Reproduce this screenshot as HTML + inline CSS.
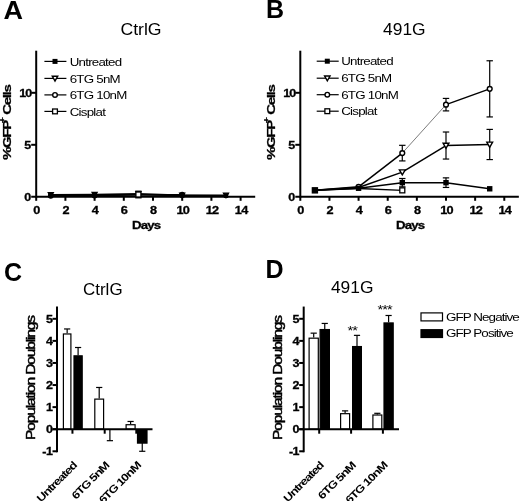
<!DOCTYPE html>
<html><head><meta charset="utf-8"><title>Figure</title>
<style>
html,body{margin:0;padding:0;background:#fff;}
svg{display:block;font-family:"Liberation Sans", Arial, sans-serif;fill:#000;}
svg g{filter:blur(0.35px);}
</style></head>
<body>
<svg width="520" height="501" viewBox="0 0 520 501">
<rect x="0" y="0" width="520" height="501" fill="#fff"/>
<g>
<text transform="translate(3.50,18.80) scale(1.08,1)" font-size="25" font-weight="bold" text-anchor="start" letter-spacing="0">A</text>
<text transform="translate(141.00,34.50) scale(1.015,1)" font-size="17.4" font-weight="normal" text-anchor="middle" letter-spacing="0">CtrlG</text>
<line x1="36.20" y1="50.70" x2="36.20" y2="197.80" stroke="#000" stroke-width="2" />
<line x1="31.20" y1="196.80" x2="255.20" y2="196.80" stroke="#000" stroke-width="2" />
<line x1="31.20" y1="144.80" x2="36.20" y2="144.80" stroke="#000" stroke-width="2" />
<line x1="31.20" y1="92.80" x2="36.20" y2="92.80" stroke="#000" stroke-width="2" />
<line x1="36.20" y1="196.80" x2="36.20" y2="200.80" stroke="#000" stroke-width="2" />
<text transform="translate(36.80,213.50) scale(1.2,1)" font-size="10.6" font-weight="bold" text-anchor="middle" letter-spacing="0" stroke="#000" stroke-width="0.3">0</text>
<line x1="65.40" y1="196.80" x2="65.40" y2="200.80" stroke="#000" stroke-width="2" />
<text transform="translate(66.00,213.50) scale(1.2,1)" font-size="10.6" font-weight="bold" text-anchor="middle" letter-spacing="0" stroke="#000" stroke-width="0.3">2</text>
<line x1="94.60" y1="196.80" x2="94.60" y2="200.80" stroke="#000" stroke-width="2" />
<text transform="translate(95.20,213.50) scale(1.2,1)" font-size="10.6" font-weight="bold" text-anchor="middle" letter-spacing="0" stroke="#000" stroke-width="0.3">4</text>
<line x1="123.80" y1="196.80" x2="123.80" y2="200.80" stroke="#000" stroke-width="2" />
<text transform="translate(124.40,213.50) scale(1.2,1)" font-size="10.6" font-weight="bold" text-anchor="middle" letter-spacing="0" stroke="#000" stroke-width="0.3">6</text>
<line x1="153.00" y1="196.80" x2="153.00" y2="200.80" stroke="#000" stroke-width="2" />
<text transform="translate(153.60,213.50) scale(1.2,1)" font-size="10.6" font-weight="bold" text-anchor="middle" letter-spacing="0" stroke="#000" stroke-width="0.3">8</text>
<line x1="182.20" y1="196.80" x2="182.20" y2="200.80" stroke="#000" stroke-width="2" />
<text transform="translate(182.80,213.50) scale(1.2,1)" font-size="10.6" font-weight="bold" text-anchor="middle" letter-spacing="-0.6" stroke="#000" stroke-width="0.3">10</text>
<line x1="211.40" y1="196.80" x2="211.40" y2="200.80" stroke="#000" stroke-width="2" />
<text transform="translate(212.00,213.50) scale(1.2,1)" font-size="10.6" font-weight="bold" text-anchor="middle" letter-spacing="-0.6" stroke="#000" stroke-width="0.3">12</text>
<line x1="240.60" y1="196.80" x2="240.60" y2="200.80" stroke="#000" stroke-width="2" />
<text transform="translate(241.20,213.50) scale(1.2,1)" font-size="10.6" font-weight="bold" text-anchor="middle" letter-spacing="-0.6" stroke="#000" stroke-width="0.3">14</text>
<text transform="translate(31.20,200.90) scale(1.18,1)" font-size="10.6" font-weight="bold" text-anchor="end" letter-spacing="0" stroke="#000" stroke-width="0.3">0</text>
<text transform="translate(31.20,148.90) scale(1.18,1)" font-size="10.6" font-weight="bold" text-anchor="end" letter-spacing="0" stroke="#000" stroke-width="0.3">5</text>
<text transform="translate(31.20,96.90) scale(1.18,1)" font-size="10.6" font-weight="bold" text-anchor="end" letter-spacing="-0.8" stroke="#000" stroke-width="0.3">10</text>
<text transform="translate(146.20,228.70) scale(1.18,1)" font-size="11.2" font-weight="bold" text-anchor="middle" letter-spacing="-0.7" stroke="#000" stroke-width="0.3">Days</text>
<text transform="translate(10.60,122.80) rotate(-90) scale(1.35,1)" font-size="11.2" font-weight="bold" text-anchor="middle" letter-spacing="-1.0" stroke="#000" stroke-width="0.25">%GFP<tspan dy="-5.8" dx="-1.6" font-size="8">+</tspan><tspan dy="5.8" dx="0.4"> Cells</tspan></text>
<line x1="44.40" y1="61.40" x2="66.40" y2="61.40" stroke="#000" stroke-width="1.2" />
<rect x="52.50" y="58.90" width="5.0" height="5.0" fill="#000"/>
<text transform="translate(69.70,65.60) scale(1.17,1)" font-size="11.4" font-weight="normal" text-anchor="start" letter-spacing="-0.65">Untreated</text>
<line x1="44.40" y1="78.40" x2="66.40" y2="78.40" stroke="#000" stroke-width="1.2" />
<polygon points="52.30,76.24 57.70,76.24 55.00,80.97" fill="#fff" stroke="#000" stroke-width="1.4"/>
<text transform="translate(69.70,82.60) scale(1.17,1)" font-size="11.4" font-weight="normal" text-anchor="start" letter-spacing="-0.65">6TG 5nM</text>
<line x1="44.40" y1="94.90" x2="66.40" y2="94.90" stroke="#000" stroke-width="1.2" />
<circle cx="55.00" cy="94.90" r="2.3" fill="#fff" stroke="#000" stroke-width="1.4"/>
<text transform="translate(69.70,99.10) scale(1.17,1)" font-size="11.4" font-weight="normal" text-anchor="start" letter-spacing="-0.65">6TG 10nM</text>
<line x1="44.40" y1="111.40" x2="66.40" y2="111.40" stroke="#000" stroke-width="1.2" />
<rect x="52.60" y="109.00" width="4.8" height="4.8" fill="#fff" stroke="#000" stroke-width="1.3"/>
<text transform="translate(69.70,115.60) scale(1.17,1)" font-size="11.4" font-weight="normal" text-anchor="start" letter-spacing="-0.65">Cisplat</text>
<line x1="50.80" y1="195.55" x2="94.60" y2="195.55" stroke="#000" stroke-width="1.6" />
<line x1="94.60" y1="195.55" x2="138.40" y2="194.72" stroke="#000" stroke-width="1.6" />
<line x1="138.40" y1="194.72" x2="182.20" y2="195.55" stroke="#000" stroke-width="1.6" />
<line x1="182.20" y1="195.55" x2="226.00" y2="195.76" stroke="#000" stroke-width="1.6" />
<rect x="48.60" y="193.35" width="4.4" height="4.4" fill="#000"/>
<rect x="92.40" y="193.35" width="4.4" height="4.4" fill="#000"/>
<rect x="136.20" y="192.52" width="4.4" height="4.4" fill="#000"/>
<rect x="180.00" y="193.35" width="4.4" height="4.4" fill="#000"/>
<rect x="223.80" y="193.56" width="4.4" height="4.4" fill="#000"/>
<line x1="50.80" y1="194.72" x2="94.60" y2="194.51" stroke="#000" stroke-width="1.6" />
<line x1="94.60" y1="194.51" x2="138.40" y2="193.89" stroke="#000" stroke-width="1.6" />
<line x1="138.40" y1="193.89" x2="182.20" y2="195.24" stroke="#000" stroke-width="1.6" />
<line x1="182.20" y1="195.24" x2="226.00" y2="195.24" stroke="#000" stroke-width="1.6" />
<polygon points="48.20,192.64 53.40,192.64 50.80,197.19" fill="#000" stroke="#000" stroke-width="1.2"/>
<polygon points="92.00,192.43 97.20,192.43 94.60,196.98" fill="#000" stroke="#000" stroke-width="1.2"/>
<polygon points="135.80,191.81 141.00,191.81 138.40,196.36" fill="#000" stroke="#000" stroke-width="1.2"/>
<polygon points="179.60,193.16 184.80,193.16 182.20,197.71" fill="#000" stroke="#000" stroke-width="1.2"/>
<polygon points="223.40,193.16 228.60,193.16 226.00,197.71" fill="#000" stroke="#000" stroke-width="1.2"/>
<line x1="50.80" y1="195.76" x2="94.60" y2="195.55" stroke="#000" stroke-width="1.5" />
<line x1="94.60" y1="195.55" x2="138.40" y2="194.72" stroke="#000" stroke-width="1.5" />
<line x1="138.40" y1="194.72" x2="182.20" y2="194.72" stroke="#000" stroke-width="1.5" />
<circle cx="50.80" cy="195.76" r="2.3" fill="#000" stroke="#000" stroke-width="1.2"/>
<circle cx="94.60" cy="195.55" r="2.3" fill="#000" stroke="#000" stroke-width="1.2"/>
<circle cx="138.40" cy="194.72" r="2.3" fill="#000" stroke="#000" stroke-width="1.2"/>
<circle cx="182.20" cy="194.72" r="2.3" fill="#000" stroke="#000" stroke-width="1.2"/>
<line x1="138.40" y1="191.18" x2="138.40" y2="197.84" stroke="#000" stroke-width="1.2" />
<line x1="135.20" y1="191.18" x2="141.60" y2="191.18" stroke="#000" stroke-width="1.2" />
<line x1="135.20" y1="197.84" x2="141.60" y2="197.84" stroke="#000" stroke-width="1.2" />
<rect x="135.90" y="192.01" width="5.0" height="5.0" fill="#fff" stroke="#000" stroke-width="1.3"/>
<text transform="translate(265.90,17.90)" font-size="25" font-weight="bold" text-anchor="start" letter-spacing="0">B</text>
<text transform="translate(404.30,34.50)" font-size="17.4" font-weight="normal" text-anchor="middle" letter-spacing="0">491G</text>
<line x1="300.30" y1="50.70" x2="300.30" y2="197.80" stroke="#000" stroke-width="2" />
<line x1="295.30" y1="196.80" x2="518.85" y2="196.80" stroke="#000" stroke-width="2" />
<line x1="295.30" y1="144.80" x2="300.30" y2="144.80" stroke="#000" stroke-width="2" />
<line x1="295.30" y1="92.80" x2="300.30" y2="92.80" stroke="#000" stroke-width="2" />
<line x1="300.30" y1="196.80" x2="300.30" y2="200.80" stroke="#000" stroke-width="2" />
<text transform="translate(300.90,213.50) scale(1.2,1)" font-size="10.6" font-weight="bold" text-anchor="middle" letter-spacing="0" stroke="#000" stroke-width="0.3">0</text>
<line x1="329.44" y1="196.80" x2="329.44" y2="200.80" stroke="#000" stroke-width="2" />
<text transform="translate(330.04,213.50) scale(1.2,1)" font-size="10.6" font-weight="bold" text-anchor="middle" letter-spacing="0" stroke="#000" stroke-width="0.3">2</text>
<line x1="358.58" y1="196.80" x2="358.58" y2="200.80" stroke="#000" stroke-width="2" />
<text transform="translate(359.18,213.50) scale(1.2,1)" font-size="10.6" font-weight="bold" text-anchor="middle" letter-spacing="0" stroke="#000" stroke-width="0.3">4</text>
<line x1="387.72" y1="196.80" x2="387.72" y2="200.80" stroke="#000" stroke-width="2" />
<text transform="translate(388.32,213.50) scale(1.2,1)" font-size="10.6" font-weight="bold" text-anchor="middle" letter-spacing="0" stroke="#000" stroke-width="0.3">6</text>
<line x1="416.86" y1="196.80" x2="416.86" y2="200.80" stroke="#000" stroke-width="2" />
<text transform="translate(417.46,213.50) scale(1.2,1)" font-size="10.6" font-weight="bold" text-anchor="middle" letter-spacing="0" stroke="#000" stroke-width="0.3">8</text>
<line x1="446.00" y1="196.80" x2="446.00" y2="200.80" stroke="#000" stroke-width="2" />
<text transform="translate(446.60,213.50) scale(1.2,1)" font-size="10.6" font-weight="bold" text-anchor="middle" letter-spacing="-0.6" stroke="#000" stroke-width="0.3">10</text>
<line x1="475.14" y1="196.80" x2="475.14" y2="200.80" stroke="#000" stroke-width="2" />
<text transform="translate(475.74,213.50) scale(1.2,1)" font-size="10.6" font-weight="bold" text-anchor="middle" letter-spacing="-0.6" stroke="#000" stroke-width="0.3">12</text>
<line x1="504.28" y1="196.80" x2="504.28" y2="200.80" stroke="#000" stroke-width="2" />
<text transform="translate(504.88,213.50) scale(1.2,1)" font-size="10.6" font-weight="bold" text-anchor="middle" letter-spacing="-0.6" stroke="#000" stroke-width="0.3">14</text>
<text transform="translate(295.30,200.90) scale(1.18,1)" font-size="10.6" font-weight="bold" text-anchor="end" letter-spacing="0" stroke="#000" stroke-width="0.3">0</text>
<text transform="translate(295.30,148.90) scale(1.18,1)" font-size="10.6" font-weight="bold" text-anchor="end" letter-spacing="0" stroke="#000" stroke-width="0.3">5</text>
<text transform="translate(295.30,96.90) scale(1.18,1)" font-size="10.6" font-weight="bold" text-anchor="end" letter-spacing="-0.8" stroke="#000" stroke-width="0.3">10</text>
<text transform="translate(410.08,228.70) scale(1.18,1)" font-size="11.2" font-weight="bold" text-anchor="middle" letter-spacing="-0.7" stroke="#000" stroke-width="0.3">Days</text>
<text transform="translate(274.70,122.80) rotate(-90) scale(1.35,1)" font-size="11.2" font-weight="bold" text-anchor="middle" letter-spacing="-1.0" stroke="#000" stroke-width="0.25">%GFP<tspan dy="-5.8" dx="-1.6" font-size="8">+</tspan><tspan dy="5.8" dx="0.4"> Cells</tspan></text>
<line x1="316.70" y1="61.20" x2="338.70" y2="61.20" stroke="#000" stroke-width="1.2" />
<rect x="324.80" y="58.70" width="5.0" height="5.0" fill="#000"/>
<text transform="translate(341.18,65.40) scale(1.17,1)" font-size="11.4" font-weight="normal" text-anchor="start" letter-spacing="-0.65">Untreated</text>
<line x1="316.70" y1="78.20" x2="338.70" y2="78.20" stroke="#000" stroke-width="1.2" />
<polygon points="324.60,76.04 330.00,76.04 327.30,80.77" fill="#fff" stroke="#000" stroke-width="1.4"/>
<text transform="translate(341.18,82.40) scale(1.17,1)" font-size="11.4" font-weight="normal" text-anchor="start" letter-spacing="-0.65">6TG 5nM</text>
<line x1="316.70" y1="94.70" x2="338.70" y2="94.70" stroke="#000" stroke-width="1.2" />
<circle cx="327.30" cy="94.70" r="2.3" fill="#fff" stroke="#000" stroke-width="1.4"/>
<text transform="translate(341.18,98.90) scale(1.17,1)" font-size="11.4" font-weight="normal" text-anchor="start" letter-spacing="-0.65">6TG 10nM</text>
<line x1="316.70" y1="111.20" x2="338.70" y2="111.20" stroke="#000" stroke-width="1.2" />
<rect x="324.90" y="108.80" width="4.8" height="4.8" fill="#fff" stroke="#000" stroke-width="1.3"/>
<text transform="translate(341.18,115.40) scale(1.17,1)" font-size="11.4" font-weight="normal" text-anchor="start" letter-spacing="-0.65">Cisplat</text>
<line x1="314.87" y1="190.35" x2="358.58" y2="188.48" stroke="#000" stroke-width="1.3" />
<line x1="358.58" y1="188.48" x2="402.29" y2="190.35" stroke="#000" stroke-width="1.3" />
<rect x="399.79" y="187.85" width="5.0" height="5.0" fill="#fff" stroke="#000" stroke-width="1.3"/>
<line x1="314.87" y1="190.35" x2="358.58" y2="187.44" stroke="#000" stroke-width="1.5" />
<line x1="358.58" y1="187.44" x2="402.29" y2="172.15" stroke="#000" stroke-width="1.5" />
<line x1="402.29" y1="172.15" x2="446.00" y2="145.53" stroke="#000" stroke-width="1.5" />
<line x1="446.00" y1="145.53" x2="489.71" y2="144.49" stroke="#000" stroke-width="1.5" />
<line x1="446.00" y1="132.01" x2="446.00" y2="159.05" stroke="#000" stroke-width="1.2" />
<line x1="442.80" y1="132.01" x2="449.20" y2="132.01" stroke="#000" stroke-width="1.2" />
<line x1="442.80" y1="159.05" x2="449.20" y2="159.05" stroke="#000" stroke-width="1.2" />
<line x1="489.71" y1="129.41" x2="489.71" y2="159.57" stroke="#000" stroke-width="1.2" />
<line x1="486.51" y1="129.41" x2="492.91" y2="129.41" stroke="#000" stroke-width="1.2" />
<line x1="486.51" y1="159.57" x2="492.91" y2="159.57" stroke="#000" stroke-width="1.2" />
<polygon points="399.39,169.83 405.19,169.83 402.29,174.91" fill="#fff" stroke="#000" stroke-width="1.4"/>
<polygon points="443.10,143.21 448.90,143.21 446.00,148.28" fill="#fff" stroke="#000" stroke-width="1.4"/>
<polygon points="486.81,142.17 492.61,142.17 489.71,147.24" fill="#fff" stroke="#000" stroke-width="1.4"/>
<line x1="314.87" y1="190.35" x2="358.58" y2="186.82" stroke="#000" stroke-width="1.5" />
<line x1="358.58" y1="186.82" x2="402.29" y2="153.12" stroke="#000" stroke-width="1.5" />
<line x1="402.29" y1="153.12" x2="446.00" y2="104.66" stroke="#444" stroke-width="0.7" />
<line x1="446.00" y1="104.66" x2="489.71" y2="88.85" stroke="#000" stroke-width="1.5" />
<line x1="402.29" y1="145.32" x2="402.29" y2="160.92" stroke="#000" stroke-width="1.2" />
<line x1="399.09" y1="145.32" x2="405.49" y2="145.32" stroke="#000" stroke-width="1.2" />
<line x1="399.09" y1="160.92" x2="405.49" y2="160.92" stroke="#000" stroke-width="1.2" />
<line x1="446.00" y1="98.42" x2="446.00" y2="110.90" stroke="#000" stroke-width="1.2" />
<line x1="442.80" y1="98.42" x2="449.20" y2="98.42" stroke="#000" stroke-width="1.2" />
<line x1="442.80" y1="110.90" x2="449.20" y2="110.90" stroke="#000" stroke-width="1.2" />
<line x1="489.71" y1="60.77" x2="489.71" y2="116.93" stroke="#000" stroke-width="1.2" />
<line x1="486.51" y1="60.77" x2="492.91" y2="60.77" stroke="#000" stroke-width="1.2" />
<line x1="486.51" y1="116.93" x2="492.91" y2="116.93" stroke="#000" stroke-width="1.2" />
<circle cx="358.58" cy="186.82" r="2.4" fill="#fff" stroke="#000" stroke-width="1.4"/>
<circle cx="402.29" cy="153.12" r="2.4" fill="#fff" stroke="#000" stroke-width="1.4"/>
<circle cx="446.00" cy="104.66" r="2.4" fill="#fff" stroke="#000" stroke-width="1.4"/>
<circle cx="489.71" cy="88.85" r="2.4" fill="#fff" stroke="#000" stroke-width="1.4"/>
<line x1="314.87" y1="190.35" x2="358.58" y2="188.27" stroke="#000" stroke-width="1.5" />
<line x1="358.58" y1="188.27" x2="402.29" y2="182.66" stroke="#000" stroke-width="1.5" />
<line x1="402.29" y1="182.66" x2="446.00" y2="182.66" stroke="#000" stroke-width="1.5" />
<line x1="446.00" y1="182.66" x2="489.71" y2="188.79" stroke="#000" stroke-width="1.5" />
<line x1="402.29" y1="178.50" x2="402.29" y2="186.82" stroke="#000" stroke-width="1.2" />
<line x1="399.09" y1="178.50" x2="405.49" y2="178.50" stroke="#000" stroke-width="1.2" />
<line x1="399.09" y1="186.82" x2="405.49" y2="186.82" stroke="#000" stroke-width="1.2" />
<line x1="446.00" y1="177.87" x2="446.00" y2="187.44" stroke="#000" stroke-width="1.2" />
<line x1="442.80" y1="177.87" x2="449.20" y2="177.87" stroke="#000" stroke-width="1.2" />
<line x1="442.80" y1="187.44" x2="449.20" y2="187.44" stroke="#000" stroke-width="1.2" />
<rect x="312.17" y="187.65" width="5.4" height="5.4" fill="#000"/>
<rect x="355.88" y="185.57" width="5.4" height="5.4" fill="#000"/>
<rect x="399.59" y="179.96" width="5.4" height="5.4" fill="#000"/>
<rect x="443.30" y="179.96" width="5.4" height="5.4" fill="#000"/>
<rect x="487.01" y="186.09" width="5.4" height="5.4" fill="#000"/>
<rect x="311.70" y="187.15" width="6.4" height="6.4" fill="#000"/>
<text transform="translate(3.90,280.50)" font-size="25" font-weight="bold" text-anchor="start" letter-spacing="0">C</text>
<text transform="translate(102.80,294.60) scale(0.975,1)" font-size="17.4" font-weight="normal" text-anchor="middle" letter-spacing="0">CtrlG</text>
<line x1="67.15" y1="333.37" x2="67.15" y2="328.96" stroke="#000" stroke-width="1.2" />
<line x1="64.05" y1="328.96" x2="70.25" y2="328.96" stroke="#000" stroke-width="1.2" />
<rect x="63.40" y="333.97" width="7.50" height="95.23" fill="#fff" stroke="#000" stroke-width="1.2"/>
<line x1="78.10" y1="355.23" x2="78.10" y2="347.50" stroke="#000" stroke-width="1.2" />
<line x1="75.00" y1="347.50" x2="81.20" y2="347.50" stroke="#000" stroke-width="1.2" />
<rect x="74.00" y="355.83" width="8.20" height="73.37" fill="#000" stroke="#000" stroke-width="1.2"/>
<line x1="99.20" y1="398.51" x2="99.20" y2="387.47" stroke="#000" stroke-width="1.2" />
<line x1="96.10" y1="387.47" x2="102.30" y2="387.47" stroke="#000" stroke-width="1.2" />
<rect x="94.80" y="399.11" width="8.80" height="30.09" fill="#fff" stroke="#000" stroke-width="1.2"/>
<line x1="109.90" y1="429.64" x2="109.90" y2="440.68" stroke="#000" stroke-width="1.2" />
<line x1="106.80" y1="440.68" x2="113.00" y2="440.68" stroke="#000" stroke-width="1.2" />
<line x1="130.60" y1="424.12" x2="130.60" y2="421.47" stroke="#000" stroke-width="1.2" />
<line x1="127.50" y1="421.47" x2="133.70" y2="421.47" stroke="#000" stroke-width="1.2" />
<rect x="126.10" y="424.72" width="9.00" height="4.48" fill="#fff" stroke="#000" stroke-width="1.2"/>
<line x1="142.25" y1="443.11" x2="142.25" y2="451.28" stroke="#000" stroke-width="1.2" />
<line x1="139.15" y1="451.28" x2="145.35" y2="451.28" stroke="#000" stroke-width="1.2" />
<rect x="137.50" y="429.80" width="9.50" height="13.31" fill="#000" stroke="#000" stroke-width="1.2"/>
<line x1="57.00" y1="306.56" x2="57.00" y2="452.28" stroke="#000" stroke-width="2" />
<line x1="52.50" y1="429.20" x2="152.50" y2="429.20" stroke="#000" stroke-width="2" />
<line x1="52.50" y1="451.28" x2="57.00" y2="451.28" stroke="#000" stroke-width="2" />
<text transform="translate(52.40,455.08) scale(1.18,1)" font-size="10.6" font-weight="bold" text-anchor="end" letter-spacing="-0.4" stroke="#000" stroke-width="0.3">-1</text>
<line x1="52.50" y1="429.20" x2="57.00" y2="429.20" stroke="#000" stroke-width="2" />
<text transform="translate(52.40,433.00) scale(1.18,1)" font-size="10.6" font-weight="bold" text-anchor="end" letter-spacing="-0.4" stroke="#000" stroke-width="0.3">0</text>
<line x1="52.50" y1="407.12" x2="57.00" y2="407.12" stroke="#000" stroke-width="2" />
<text transform="translate(52.40,410.92) scale(1.18,1)" font-size="10.6" font-weight="bold" text-anchor="end" letter-spacing="-0.4" stroke="#000" stroke-width="0.3">1</text>
<line x1="52.50" y1="385.04" x2="57.00" y2="385.04" stroke="#000" stroke-width="2" />
<text transform="translate(52.40,388.84) scale(1.18,1)" font-size="10.6" font-weight="bold" text-anchor="end" letter-spacing="-0.4" stroke="#000" stroke-width="0.3">2</text>
<line x1="52.50" y1="362.96" x2="57.00" y2="362.96" stroke="#000" stroke-width="2" />
<text transform="translate(52.40,366.76) scale(1.18,1)" font-size="10.6" font-weight="bold" text-anchor="end" letter-spacing="-0.4" stroke="#000" stroke-width="0.3">3</text>
<line x1="52.50" y1="340.88" x2="57.00" y2="340.88" stroke="#000" stroke-width="2" />
<text transform="translate(52.40,344.68) scale(1.18,1)" font-size="10.6" font-weight="bold" text-anchor="end" letter-spacing="-0.4" stroke="#000" stroke-width="0.3">4</text>
<line x1="52.50" y1="318.80" x2="57.00" y2="318.80" stroke="#000" stroke-width="2" />
<text transform="translate(52.40,322.60) scale(1.18,1)" font-size="10.6" font-weight="bold" text-anchor="end" letter-spacing="-0.4" stroke="#000" stroke-width="0.3">5</text>
<line x1="72.45" y1="429.20" x2="72.45" y2="433.70" stroke="#000" stroke-width="2" />
<line x1="104.70" y1="429.20" x2="104.70" y2="433.70" stroke="#000" stroke-width="2" />
<line x1="136.30" y1="429.20" x2="136.30" y2="433.70" stroke="#000" stroke-width="2" />
<text transform="translate(35.00,378.00) rotate(-90) scale(1.3,1)" font-size="12" font-weight="normal" text-anchor="middle" letter-spacing="-0.9" stroke="#000" stroke-width="0.45">Population Doublings</text>
<text transform="translate(77.45,466.20) rotate(-45) scale(1.22,1)" font-size="10.6" font-weight="bold" text-anchor="end" letter-spacing="-0.8">Untreated</text>
<text transform="translate(109.70,466.20) rotate(-45) scale(1.22,1)" font-size="10.6" font-weight="bold" text-anchor="end" letter-spacing="-0.8">6TG 5nM</text>
<text transform="translate(141.30,466.20) rotate(-45) scale(1.22,1)" font-size="10.6" font-weight="bold" text-anchor="end" letter-spacing="-0.8">6TG 10nM</text>
<text transform="translate(265.50,278.30)" font-size="25" font-weight="bold" text-anchor="start" letter-spacing="0">D</text>
<text transform="translate(352.20,293.20)" font-size="17.4" font-weight="normal" text-anchor="middle" letter-spacing="0">491G</text>
<line x1="313.70" y1="337.57" x2="313.70" y2="333.15" stroke="#000" stroke-width="1.2" />
<line x1="310.60" y1="333.15" x2="316.80" y2="333.15" stroke="#000" stroke-width="1.2" />
<rect x="309.10" y="338.17" width="9.20" height="91.03" fill="#fff" stroke="#000" stroke-width="1.2"/>
<line x1="324.75" y1="328.96" x2="324.75" y2="323.44" stroke="#000" stroke-width="1.2" />
<line x1="321.65" y1="323.44" x2="327.85" y2="323.44" stroke="#000" stroke-width="1.2" />
<rect x="320.10" y="329.56" width="9.30" height="99.64" fill="#000" stroke="#000" stroke-width="1.2"/>
<line x1="345.10" y1="413.08" x2="345.10" y2="410.87" stroke="#000" stroke-width="1.2" />
<line x1="342.00" y1="410.87" x2="348.20" y2="410.87" stroke="#000" stroke-width="1.2" />
<rect x="340.60" y="413.68" width="9.00" height="15.52" fill="#fff" stroke="#000" stroke-width="1.2"/>
<line x1="357.00" y1="345.96" x2="357.00" y2="335.36" stroke="#000" stroke-width="1.2" />
<line x1="353.90" y1="335.36" x2="360.10" y2="335.36" stroke="#000" stroke-width="1.2" />
<rect x="352.60" y="346.56" width="8.80" height="82.64" fill="#000" stroke="#000" stroke-width="1.2"/>
<line x1="377.35" y1="414.41" x2="377.35" y2="413.30" stroke="#000" stroke-width="1.2" />
<line x1="374.25" y1="413.30" x2="380.45" y2="413.30" stroke="#000" stroke-width="1.2" />
<rect x="372.90" y="415.01" width="8.90" height="14.19" fill="#fff" stroke="#000" stroke-width="1.2"/>
<line x1="388.60" y1="322.33" x2="388.60" y2="315.49" stroke="#000" stroke-width="1.2" />
<line x1="385.50" y1="315.49" x2="391.70" y2="315.49" stroke="#000" stroke-width="1.2" />
<rect x="384.00" y="322.93" width="9.20" height="106.27" fill="#000" stroke="#000" stroke-width="1.2"/>
<line x1="303.70" y1="306.56" x2="303.70" y2="452.28" stroke="#000" stroke-width="2" />
<line x1="299.20" y1="429.20" x2="399.00" y2="429.20" stroke="#000" stroke-width="2" />
<line x1="299.20" y1="451.28" x2="303.70" y2="451.28" stroke="#000" stroke-width="2" />
<text transform="translate(299.10,455.08) scale(1.18,1)" font-size="10.6" font-weight="bold" text-anchor="end" letter-spacing="-0.4" stroke="#000" stroke-width="0.3">-1</text>
<line x1="299.20" y1="429.20" x2="303.70" y2="429.20" stroke="#000" stroke-width="2" />
<text transform="translate(299.10,433.00) scale(1.18,1)" font-size="10.6" font-weight="bold" text-anchor="end" letter-spacing="-0.4" stroke="#000" stroke-width="0.3">0</text>
<line x1="299.20" y1="407.12" x2="303.70" y2="407.12" stroke="#000" stroke-width="2" />
<text transform="translate(299.10,410.92) scale(1.18,1)" font-size="10.6" font-weight="bold" text-anchor="end" letter-spacing="-0.4" stroke="#000" stroke-width="0.3">1</text>
<line x1="299.20" y1="385.04" x2="303.70" y2="385.04" stroke="#000" stroke-width="2" />
<text transform="translate(299.10,388.84) scale(1.18,1)" font-size="10.6" font-weight="bold" text-anchor="end" letter-spacing="-0.4" stroke="#000" stroke-width="0.3">2</text>
<line x1="299.20" y1="362.96" x2="303.70" y2="362.96" stroke="#000" stroke-width="2" />
<text transform="translate(299.10,366.76) scale(1.18,1)" font-size="10.6" font-weight="bold" text-anchor="end" letter-spacing="-0.4" stroke="#000" stroke-width="0.3">3</text>
<line x1="299.20" y1="340.88" x2="303.70" y2="340.88" stroke="#000" stroke-width="2" />
<text transform="translate(299.10,344.68) scale(1.18,1)" font-size="10.6" font-weight="bold" text-anchor="end" letter-spacing="-0.4" stroke="#000" stroke-width="0.3">4</text>
<line x1="299.20" y1="318.80" x2="303.70" y2="318.80" stroke="#000" stroke-width="2" />
<text transform="translate(299.10,322.60) scale(1.18,1)" font-size="10.6" font-weight="bold" text-anchor="end" letter-spacing="-0.4" stroke="#000" stroke-width="0.3">5</text>
<line x1="319.20" y1="429.20" x2="319.20" y2="433.70" stroke="#000" stroke-width="2" />
<line x1="351.10" y1="429.20" x2="351.10" y2="433.70" stroke="#000" stroke-width="2" />
<line x1="382.90" y1="429.20" x2="382.90" y2="433.70" stroke="#000" stroke-width="2" />
<text transform="translate(281.50,378.00) rotate(-90) scale(1.3,1)" font-size="12" font-weight="normal" text-anchor="middle" letter-spacing="-0.9" stroke="#000" stroke-width="0.45">Population Doublings</text>
<text transform="translate(324.20,466.20) rotate(-45) scale(1.22,1)" font-size="10.6" font-weight="bold" text-anchor="end" letter-spacing="-0.8">Untreated</text>
<text transform="translate(356.10,466.20) rotate(-45) scale(1.22,1)" font-size="10.6" font-weight="bold" text-anchor="end" letter-spacing="-0.8">6TG 5nM</text>
<text transform="translate(387.90,466.20) rotate(-45) scale(1.22,1)" font-size="10.6" font-weight="bold" text-anchor="end" letter-spacing="-0.8">6TG 10nM</text>
<text transform="translate(352.20,335.30) scale(1.12,1)" font-size="13" font-weight="normal" text-anchor="middle" letter-spacing="-0.8">**</text>
<text transform="translate(384.60,313.60) scale(1.12,1)" font-size="13" font-weight="normal" text-anchor="middle" letter-spacing="-0.8">***</text>
<rect x="421" y="312.9" width="21.5" height="8" fill="#fff" stroke="#000" stroke-width="1.2"/>
<rect x="421" y="329.7" width="21.5" height="7.8" fill="#000" stroke="#000" stroke-width="1.2"/>
<text transform="translate(446.00,320.70) scale(1.18,1)" font-size="11.4" font-weight="normal" text-anchor="start" letter-spacing="-0.8">GFP Negative</text>
<text transform="translate(446.00,337.20) scale(1.18,1)" font-size="11.4" font-weight="normal" text-anchor="start" letter-spacing="-0.8">GFP Positive</text>
</g>
</svg>
</body></html>
